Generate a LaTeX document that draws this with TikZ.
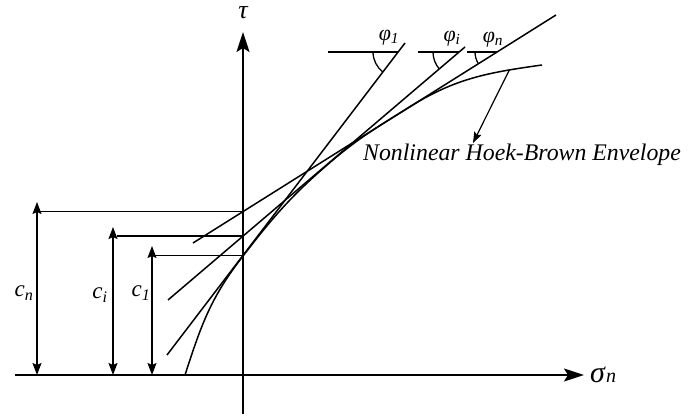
\documentclass[tikz,border=0pt]{standalone}
\usepackage{fontspec}
\setmainfont{Liberation Serif}
\usetikzlibrary{arrows.meta,positioning,calc,angles}

\begin{document}
\begin{tikzpicture}[x=1pt,y=1pt,
  axis/.style={line width=1.7pt,-{Stealth[length=20pt,width=13pt,inset=4pt]}},
  tangent/.style={line width=1.5pt},
  guide/.style={line width=1.5pt},
  dimarrow/.style={line width=1.5pt,
    {Stealth[length=12pt,width=9pt,inset=2pt]}-{Stealth[length=12pt,width=9pt,inset=2pt]}},
  lbl/.style={font=\fontsize{23}{25}\selectfont\itshape,inner sep=0pt},
  anglemark/.style={draw,line width=1.3pt,angle radius=#1}
]
\useasboundingbox (0,0) rectangle (688,417);
% axes
\coordinate (xs) at (15,42);
\coordinate (xe) at (584,42);
\coordinate (ys) at (243,3);
\coordinate (ye) at (243,385);
\draw[axis] (xs) -- (xe);
\draw[axis] (ys) -- (ye);
\node[lbl,anchor=west,font=\fontsize{30}{30}\selectfont\itshape] (sig) at (590,42)
  {σ\kern1pt{\fontsize{20}{20}\selectfont n}};
\node[lbl,font=\fontsize{26}{26}\selectfont\itshape] (tau) at (243,404) {τ};
% tangent lines
\coordinate (L1a) at (167,62);   \coordinate (L1b) at (405,374);
\coordinate (Lia) at (168,117);  \coordinate (Lib) at (465,370);
\coordinate (Lna) at (193,174);  \coordinate (Lnb) at (556,402);
\draw[tangent] (L1a) -- (L1b);
\draw[tangent] (Lia) -- (Lib);
\draw[tangent] (Lna) -- (Lnb);
% cohesion intercepts
\coordinate (c1) at (243,161.6);
\coordinate (ci) at (243,181);
\coordinate (cn) at (243,205.4);
\draw[guide] (155,161.6) -- (c1);
\draw[guide] (117,181) -- (ci);
\draw[guide] (40,205.4) -- (cn);
\draw[dimarrow] (152,42) -- (152,171);
\draw[dimarrow] (113,42) -- (113,190);
\draw[dimarrow] (37,42) -- (37,215);
\node[lbl] (lc1) at (141,124) {c\textsubscript{1}};
\node[lbl] (lci) at (100,122) {c\textsubscript{i}};
\node[lbl] (lcn) at (24,124) {c\textsubscript{n}};
% friction angles
\coordinate (H1) at (328,365);  \coordinate (V1) at (398,365);
\coordinate (Hi) at (418,365);  \coordinate (Vi) at (459,365);
\coordinate (Hn) at (467,365);  \coordinate (Vn) at (497,365);
\draw[guide] (H1) -- (V1);
\draw[guide] (Hi) -- (Vi);
\draw[guide] (Hn) -- (Vn);
\pic[anglemark=25pt] {angle=H1--V1--L1a};
\pic[anglemark=26pt] {angle=Hi--Vi--Lia};
\pic[anglemark=22pt] {angle=Hn--Vn--Lna};
\node[lbl,font=\fontsize{22}{24}\selectfont\itshape] (phi1) at (389,379) {φ\textsubscript{1}};
\node[lbl,font=\fontsize{22}{24}\selectfont\itshape] (phii) at (452,378) {φ\textsubscript{i}};
\node[lbl,font=\fontsize{22}{24}\selectfont\itshape] (phin) at (493,377) {φ\textsubscript{n}};
% Hoek-Brown envelope
\draw[tangent] (185,42) to[out=72,in=232.6] (240,157)
  to[out=52.6,in=220.6] (330,254.5)
  to[out=40.6,in=212] (410,310.3)
  to[out=32,in=188] coordinate[pos=0.78] (E) (542,352);
\node[lbl,anchor=west,font=\fontsize{23.8}{25}\selectfont\itshape] (env) at (363,262)
  {Nonlinear Hoek-Brown Envelope};
\coordinate (envtip) at (473,274);
\draw[line width=1.2pt,-{Stealth[length=11pt,width=8pt,inset=2pt]}] (E) -- (envtip);
\end{tikzpicture}
\end{document}
